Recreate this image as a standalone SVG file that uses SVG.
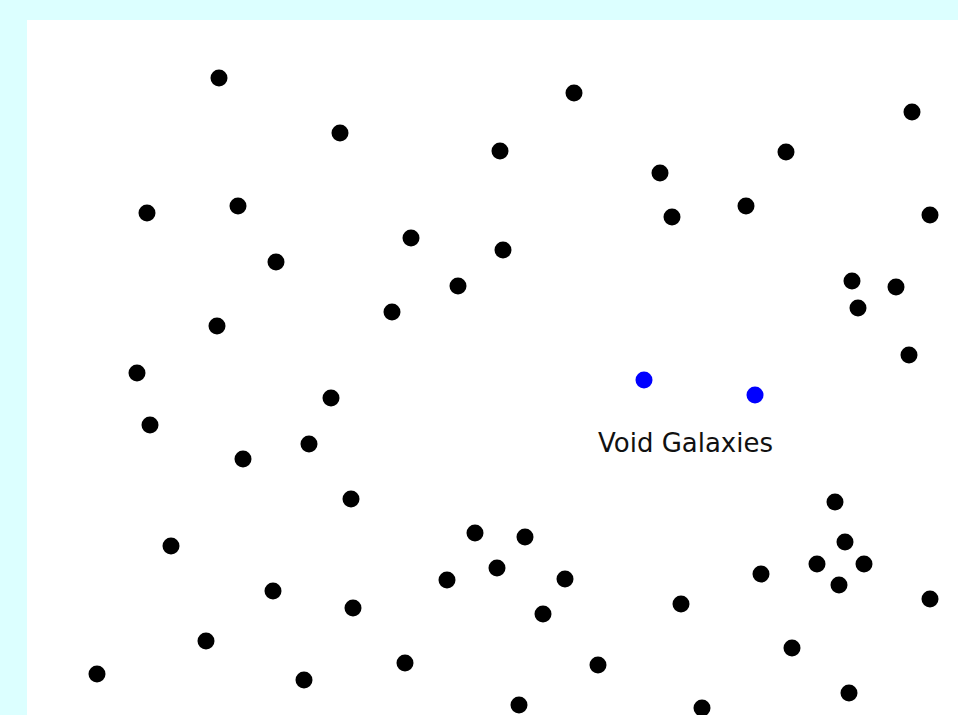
<svg xmlns="http://www.w3.org/2000/svg" width="958" height="715" viewBox="0 0 958 715">
<style>
.g{fill:#000}
.v{fill:#0000ff}
.t{font-family:"DejaVu Sans",sans-serif;font-size:26.5px;fill:#111}
</style>
<rect x="0" y="0" width="958" height="715" fill="#dcffff"/>
<rect x="27" y="20" width="931" height="695" fill="#ffffff"/>
<g id="galaxies">
<circle class="g" cx="219" cy="78" r="8.5"/>
<circle class="g" cx="574" cy="93" r="8.5"/>
<circle class="g" cx="912" cy="112" r="8.5"/>
<circle class="g" cx="340" cy="133" r="8.5"/>
<circle class="g" cx="500" cy="151" r="8.5"/>
<circle class="g" cx="786" cy="152" r="8.5"/>
<circle class="g" cx="660" cy="173" r="8.5"/>
<circle class="g" cx="147" cy="213" r="8.5"/>
<circle class="g" cx="238" cy="206" r="8.5"/>
<circle class="g" cx="746" cy="206" r="8.5"/>
<circle class="g" cx="672" cy="217" r="8.5"/>
<circle class="g" cx="930" cy="215" r="8.5"/>
<circle class="g" cx="411" cy="238" r="8.5"/>
<circle class="g" cx="503" cy="250" r="8.5"/>
<circle class="g" cx="276" cy="262" r="8.5"/>
<circle class="g" cx="458" cy="286" r="8.5"/>
<circle class="g" cx="852" cy="281" r="8.5"/>
<circle class="g" cx="896" cy="287" r="8.5"/>
<circle class="g" cx="858" cy="308" r="8.5"/>
<circle class="g" cx="392" cy="312" r="8.5"/>
<circle class="g" cx="217" cy="326" r="8.5"/>
<circle class="g" cx="909" cy="355" r="8.5"/>
<circle class="g" cx="137" cy="373" r="8.5"/>
<circle class="g" cx="331" cy="398" r="8.5"/>
<circle class="g" cx="150" cy="425" r="8.5"/>
<circle class="g" cx="309" cy="444" r="8.5"/>
<circle class="g" cx="243" cy="459" r="8.5"/>
<circle class="g" cx="351" cy="499" r="8.5"/>
<circle class="g" cx="835" cy="502" r="8.5"/>
<circle class="g" cx="475" cy="533" r="8.5"/>
<circle class="g" cx="525" cy="537" r="8.5"/>
<circle class="g" cx="845" cy="542" r="8.5"/>
<circle class="g" cx="171" cy="546" r="8.5"/>
<circle class="g" cx="497" cy="568" r="8.5"/>
<circle class="g" cx="817" cy="564" r="8.5"/>
<circle class="g" cx="864" cy="564" r="8.5"/>
<circle class="g" cx="447" cy="580" r="8.5"/>
<circle class="g" cx="565" cy="579" r="8.5"/>
<circle class="g" cx="761" cy="574" r="8.5"/>
<circle class="g" cx="839" cy="585" r="8.5"/>
<circle class="g" cx="273" cy="591" r="8.5"/>
<circle class="g" cx="930" cy="599" r="8.5"/>
<circle class="g" cx="353" cy="608" r="8.5"/>
<circle class="g" cx="543" cy="614" r="8.5"/>
<circle class="g" cx="681" cy="604" r="8.5"/>
<circle class="g" cx="206" cy="641" r="8.5"/>
<circle class="g" cx="792" cy="648" r="8.5"/>
<circle class="g" cx="97" cy="674" r="8.5"/>
<circle class="g" cx="405" cy="663" r="8.5"/>
<circle class="g" cx="598" cy="665" r="8.5"/>
<circle class="g" cx="304" cy="680" r="8.5"/>
<circle class="g" cx="849" cy="693" r="8.5"/>
<circle class="g" cx="519" cy="705" r="8.5"/>
<circle class="g" cx="702" cy="708" r="8.5"/>
</g>
<g id="void-galaxies">
<circle class="v" cx="644" cy="380" r="8.5"/>
<circle class="v" cx="755" cy="395" r="8.5"/>
<text class="t" x="598" y="452" textLength="175" lengthAdjust="spacingAndGlyphs">Void Galaxies</text>
</g>
</svg>
